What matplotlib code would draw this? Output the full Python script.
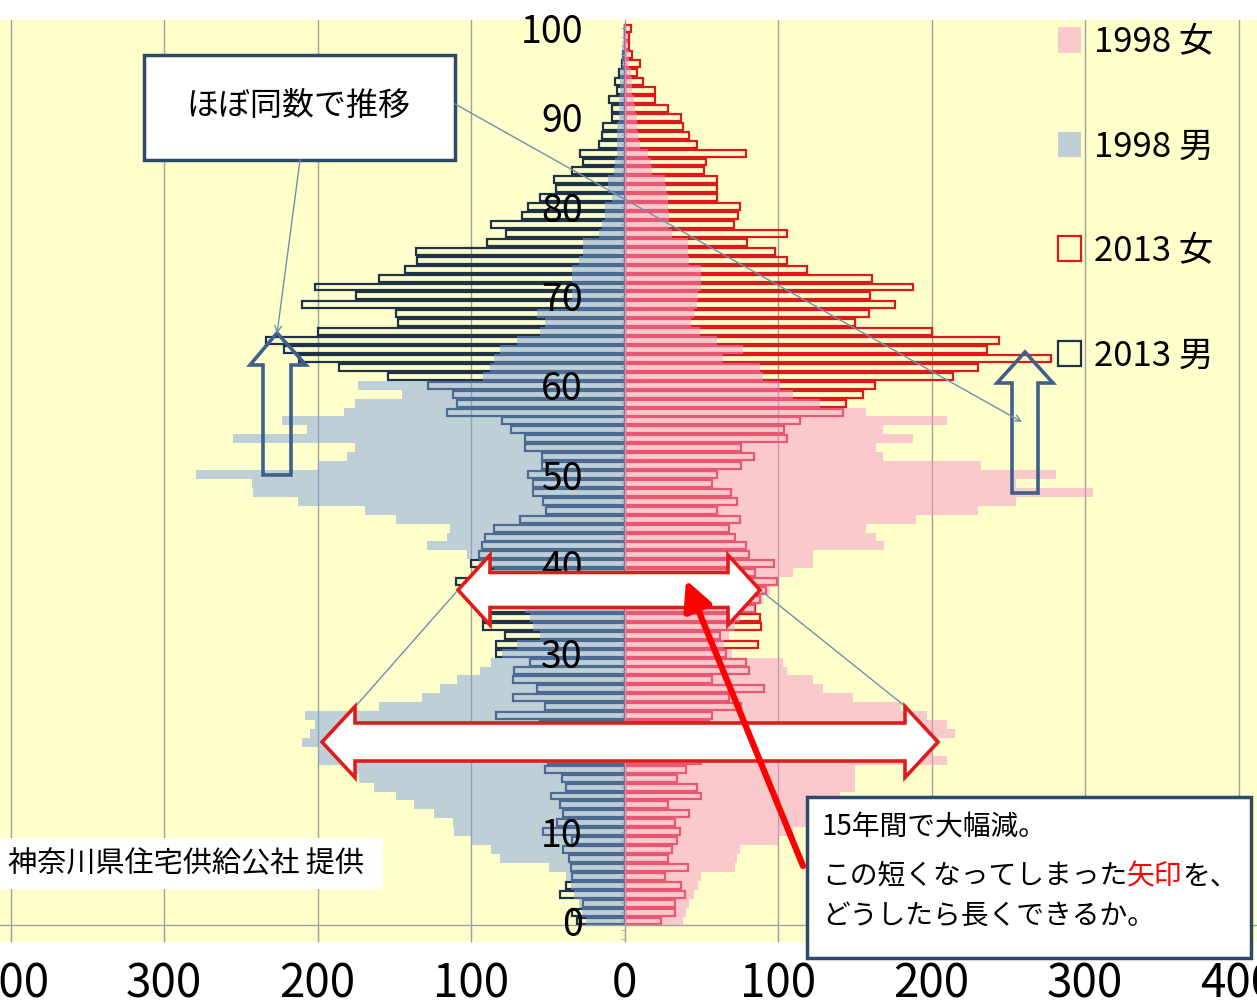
import numpy as np
import matplotlib.pyplot as plt
from matplotlib.patches import Polygon, Rectangle, FancyArrowPatch
from matplotlib.transforms import Affine2D
from matplotlib.text import Annotation
from matplotlib.ticker import MultipleLocator, FuncFormatter

plt.rcParams['font.family'] = ['Noto Sans CJK JP', 'DejaVu Sans']

# ages 0..100, persons per age
ages = np.arange(0, 101)

male_1998 = [25, 28, 30, 33, 35, 38, 49, 81, 87, 100,
             111, 112, 124, 137, 149, 163, 173, 176, 200, 200,
             210, 205, 202, 208, 160, 132, 120, 109, 94, 87,
             80, 70, 55, 60, 62, 65, 70, 75, 80, 85,
             95, 103, 129, 116, 114, 149, 169, 213, 242, 243,
             279, 200, 181, 176, 255, 207, 223, 183, 176, 145,
             174, 92, 88, 85, 81, 70, 55, 52, 57, 36,
             34, 34, 34, 34, 30, 27, 27, 17, 15, 13,
             13, 8, 11, 11, 7, 6, 5, 5, 5, 5,
             4, 4, 4, 3, 3, 3, 2, 2, 2, 1, 1]

female_1998 = [38, 40, 42, 45, 48, 50, 72, 73, 75, 100,
               110, 120, 125, 130, 140, 150, 150, 150, 210, 200,
               205, 215, 210, 197, 180, 149, 129, 123, 106, 103,
               70, 65, 68, 72, 75, 85, 90, 95, 100, 110,
               123, 123, 169, 164, 157, 190, 230, 255, 305, 255,
               281, 232, 168, 164, 188, 168, 210, 157, 127, 110,
               101, 90, 88, 64, 77, 60, 49, 43, 45, 47,
               48, 50, 50, 50, 42, 41, 41, 31, 29, 29,
               28, 28, 27, 26, 18, 17, 15, 10, 9, 8,
               8, 7, 6, 5, 5, 4, 3, 3, 2, 2, 1]

male_2013 = [31, 34, 27, 42, 38, 34, 35, 36, 40, 34,
             53, 44, 40, 42, 48, 38, 41, 52, 50, 45,
             48, 50, 55, 84, 52, 73, 57, 73, 72, 62,
             84, 84, 78, 92, 92, 90, 95, 100, 110, 97,
             100, 95, 93, 91, 85, 68, 51, 53, 60, 60,
             63, 54, 54, 65, 65, 74, 80, 116, 109, 112,
             128, 154, 186, 212, 222, 234, 200, 148, 149, 210,
             175, 202, 160, 143, 135, 136, 90, 77, 87, 67,
             63, 55, 45, 46, 34, 27, 29, 17, 15, 14,
             8, 8, 10, 5, 6, 4, 2, 1, 0, 0, 0]

female_2013 = [24, 33, 33, 39, 37, 26, 41, 28, 31, 34,
               36, 33, 42, 28, 50, 47, 34, 40, 50, 48,
               45, 52, 55, 57, 76, 68, 91, 57, 81, 79,
               66, 87, 62, 89, 88, 85, 88, 92, 99, 85,
               97, 81, 79, 72, 68, 75, 60, 73, 69, 57,
               60, 76, 84, 76, 106, 104, 114, 142, 144, 155,
               163, 214, 230, 278, 236, 244, 200, 150, 159, 176,
               160, 188, 161, 119, 106, 98, 80, 106, 71, 74,
               75, 60, 60, 60, 52, 53, 79, 47, 42, 38,
               37, 28, 20, 20, 12, 8, 10, 5, 3, 3, 4]

series_labels = ['1998 女', '1998 男', '2013 女', '2013 男']
x_ticks = [-400, -300, -200, -100, 0, 100, 200, 300, 400]
y_ticks = [0, 10, 20, 30, 40, 50, 60, 70, 80, 90, 100]

W, H = 1257, 1008
fig = plt.figure(figsize=(W / 100, H / 100), dpi=100)
fig.patch.set_facecolor('white')
# reference pixel space (origin top-left) for the hand-placed call-outs
T = Affine2D().scale(1 / W, -1 / H).translate(0, 1) + fig.transFigure

ax = fig.add_axes([0, 1 - 942 / H, 1, (942 - 20) / H])
ax.set_facecolor('#ffffcc')
ax.set_autoscale_on(False)
ax.set_xlim(-407, 412)
ax.set_ylim(-2.35, 100.9)

# 2013: hollow bars
m13 = ax.barh(ages, -np.array(male_2013), height=0.78, facecolor='none',
              edgecolor='#1c3348', linewidth=1.6, zorder=1)
f13 = ax.barh(ages, female_2013, height=0.78, facecolor='none',
              edgecolor='#dd1a1a', linewidth=1.6, zorder=1)

# 1998: translucent filled steps drawn over them
edges = np.arange(-0.5, 101.5, 1)
m98 = ax.stairs(-np.array(male_1998), edges, orientation='horizontal',
                baseline=0, fill=True, color='#7fa2e0', alpha=0.5, zorder=2)
f98 = ax.stairs(female_1998, edges, orientation='horizontal',
                baseline=0, fill=True, color='#f794cc', alpha=0.5, zorder=2)

# axes styling
for s in ['top', 'right', 'bottom']:
    ax.spines[s].set_visible(False)
ax.spines['left'].set_position(('data', 0))
ax.spines['left'].set_color('#a0a0a0')
ax.spines['left'].set_bounds(-0.5, 100.5)
ax.spines['left'].set_zorder(1.5)
ax.axhline(-0.5, color='#a0a0a0', lw=1, zorder=1.5)

ax.set_xticks(x_ticks)
ax.xaxis.set_major_formatter(FuncFormatter(lambda v, p: f'{abs(int(v))}'))
ax.tick_params(axis='x', direction='in', length=10.8, color='#a0a0a0',
               labelsize=33, pad=13)
ax.grid(axis='x', color='#a0a0a0', lw=1)
ax.xaxis.set_zorder(0.5)

ax.set_yticks(y_ticks)
ax.yaxis.set_minor_locator(MultipleLocator(1))
ax.tick_params(axis='y', which='both', direction='out', length=3,
               color='#a0a0a0', labelsize=27, pad=27)
ax.yaxis.set_zorder(3)

ax.legend(handles=[f98, m98, f13, m13], labels=series_labels,
          loc='upper left', bbox_to_anchor=(1058 / W, 1 - 25 / H),
          bbox_transform=fig.transFigure, frameon=False, fontsize=25,
          handlelength=0.65, handleheight=0.75, handletextpad=0.4,
          labelspacing=2.0, borderpad=0, borderaxespad=0)

# --- call-outs ---
navy = '#2e4a6b'
line_c = '#7090ac'
red = '#e01b1b'

# hollow up-arrows
up_arrows = [
    [(277, 333), (306, 365), (291, 365), (291, 475), (263, 475), (263, 365), (250, 365)],
    [(1025, 352), (1053, 383), (1038, 383), (1038, 493), (1012, 493), (1012, 383), (997, 383)],
]
for pts in up_arrows:
    fig.add_artist(Polygon(pts, closed=True, fill=False, edgecolor='#3f5f8c',
                           lw=2.6, transform=T, zorder=5))


def double_arrow(x0, xb0, xb1, x1, yc, hh, bh):
    return [(x0, yc), (xb0, yc - hh), (xb0, yc - bh), (xb1, yc - bh), (xb1, yc - hh),
            (x1, yc), (xb1, yc + hh), (xb1, yc + bh), (xb0, yc + bh), (xb0, yc + hh)]


# connecting lines between the two white arrows
for a, b in [((458, 590), (355, 707)), ((760, 590), (906, 707))]:
    fig.add_artist(FancyArrowPatch(a, b, arrowstyle='-', color=line_c, lw=1,
                                   transform=T, zorder=5))

fig.add_artist(Polygon(double_arrow(458, 490, 728, 760, 590, 35, 17.5), closed=True,
                       facecolor='white', edgecolor=red, lw=2.6, joinstyle='miter',
                       transform=T, zorder=6))
fig.add_artist(Polygon(double_arrow(322, 355, 905, 938, 742, 35.5, 19), closed=True,
                       facecolor='white', edgecolor=red, lw=2.6, joinstyle='miter',
                       transform=T, zorder=6))

# box: ほぼ同数で推移
fig.add_artist(Rectangle((144, 55), 311, 105, facecolor='white', edgecolor=navy,
                         lw=2.5, transform=T, zorder=6))
fig.text(298, 106, 'ほぼ同数で推移', transform=T, ha='center', va='center',
         fontsize=23, zorder=7)
for a, b in [((300, 160), (277, 334)), ((455, 104), (1022, 422))]:
    fig.add_artist(FancyArrowPatch(a, b, arrowstyle='->', mutation_scale=12,
                                   color=line_c, lw=1, shrinkA=0, shrinkB=0,
                                   transform=T, zorder=6))

# credit
fig.add_artist(Rectangle((0, 838), 383, 51, facecolor='white', edgecolor='none',
                         transform=T, zorder=6))
fig.text(8, 864, '神奈川県住宅供給公社 提供', transform=T, ha='left', va='center',
         fontsize=21, zorder=7)

# message box
fig.add_artist(Rectangle((807, 797), 444, 161, facecolor='white', edgecolor=navy,
                         lw=2.5, transform=T, zorder=6))
fig.text(822, 827, '15年間で大幅減。', transform=T, ha='left', va='center',
         fontsize=20, zorder=7)
t1 = fig.text(822, 876, 'この短くなってしまった', transform=T, ha='left',
              va='center', fontsize=20, zorder=7)
t2 = Annotation('矢印', xy=(1, 0), xycoords=t1, ha='left', va='bottom',
                fontsize=20, color='#ff0000', zorder=7)
fig.add_artist(t2)
t3 = Annotation('を、', xy=(1, 0), xycoords=t2, ha='left', va='bottom',
                fontsize=20, zorder=7)
fig.add_artist(t3)
fig.text(822, 916, 'どうしたら長くできるか。', transform=T, ha='left', va='center',
         fontsize=20, zorder=7)

# red pointer
fig.add_artist(FancyArrowPatch((803, 866), (686, 580),
                               arrowstyle='-|>,head_length=0.8,head_width=0.4',
                               mutation_scale=22, color='#ff0000', lw=4.5,
                               shrinkA=0, shrinkB=0, transform=T, zorder=8))

fig.savefig('out.png', dpi=100, facecolor='white')
